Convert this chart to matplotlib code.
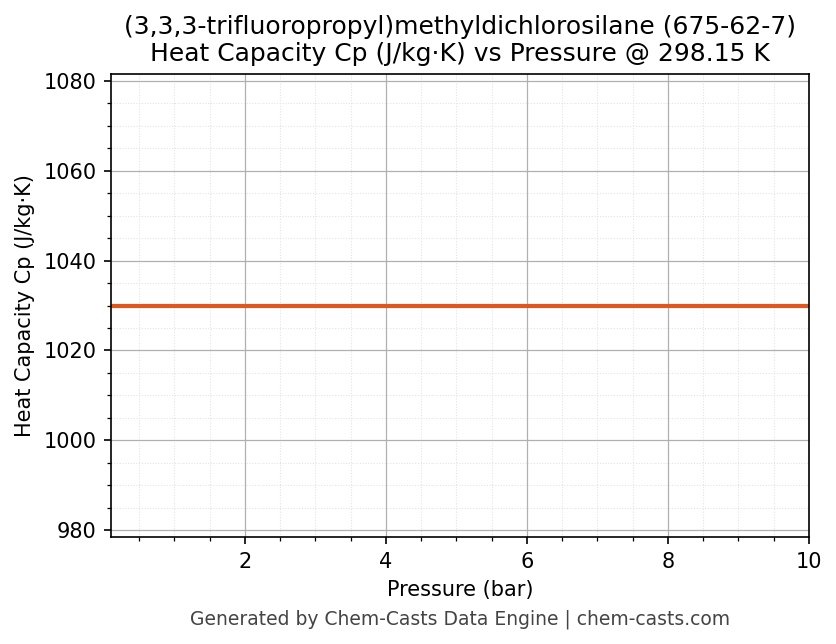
import numpy as np
import matplotlib
matplotlib.use("Agg")
import matplotlib.pyplot as plt
from matplotlib.ticker import AutoMinorLocator

# heat capacity is flat over the pressure range
pressure = [0.1, 10.0]
cp = [1030.0, 1030.0]
title = "(3,3,3-trifluoropropyl)methyldichlorosilane (675-62-7)\nHeat Capacity Cp (J/kg·K) vs Pressure @ 298.15 K"

fig = plt.figure(figsize=(836/150, 644/150), dpi=150)
ax = fig.add_axes([111/836, 1 - 537/644, (809 - 111)/836, (537 - 74)/644])

ax.plot(pressure, cp, color="#E0561F", linewidth=2)

ax.set_xlim(0.1, 10)
ax.set_ylim(cp[0]*0.95, cp[0]*1.05)
ax.xaxis.set_minor_locator(AutoMinorLocator())
ax.yaxis.set_minor_locator(AutoMinorLocator())
ax.grid(True, which="major", color="#b0b0b0", linewidth=0.6)
ax.grid(True, which="minor", color="#e2e2e2", linestyle=":", linewidth=0.5)

ax.set_title(title, fontsize=12)
ax.set_xlabel("Pressure (bar)")
ax.set_ylabel("Heat Capacity Cp (J/kg·K)")
fig.text(460/836, 0.03, "Generated by Chem-Casts Data Engine | chem-casts.com",
         ha="center", fontsize=9, color="#444444")

fig.savefig("out.png", dpi=150)
